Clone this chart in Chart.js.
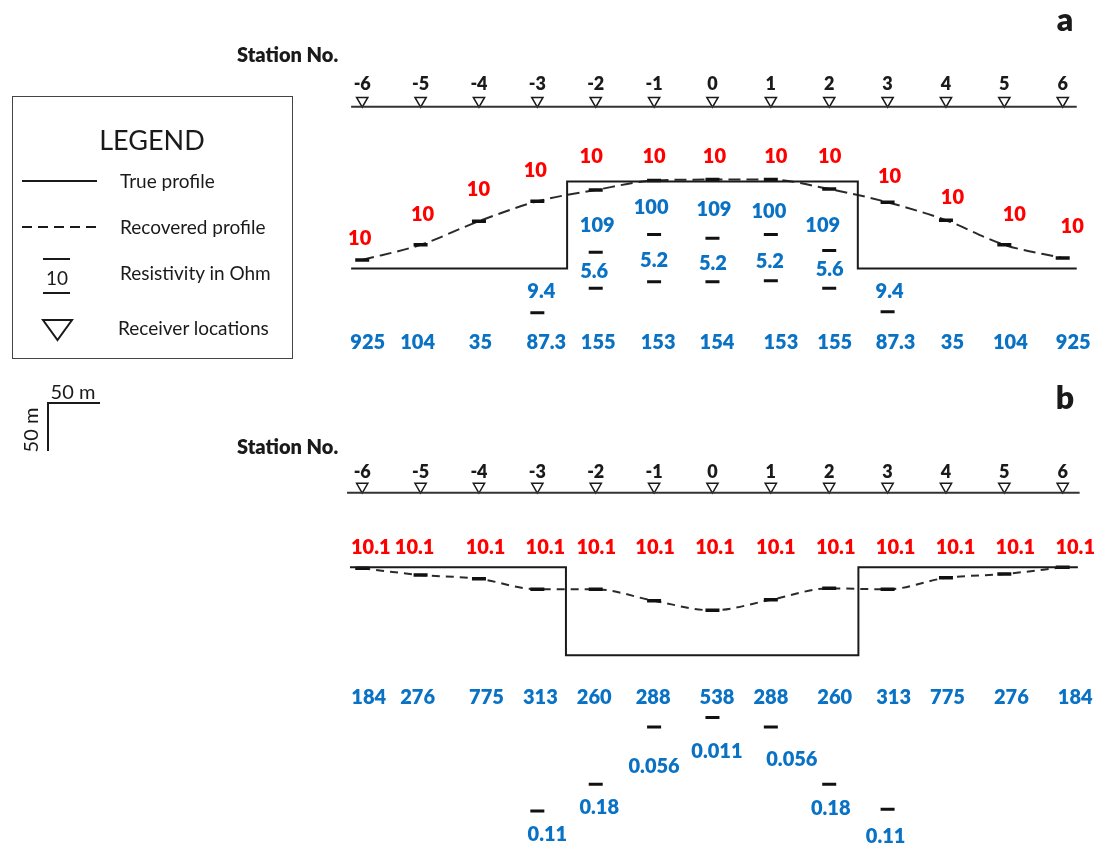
<!DOCTYPE html>
<html>
<head>
<meta charset="utf-8">
<script src="https://cdn.jsdelivr.net/npm/chart.js@4.4.1/dist/chart.umd.min.js"></script>
<style>
  body { margin: 0; background: #fff; font-family: Lato, "Open Sans", sans-serif; }
  #page { position: relative; width: 1110px; height: 856px; overflow: hidden; }
  canvas { position: absolute; left: 0; }
  #panelA { top: 0; }
  #panelB { top: 380px; }
  .box { position: absolute; left: 12px; top: 96px; width: 279px; height: 261px; border: 1px solid #444; }
  .txt { position: absolute; white-space: nowrap; height: 24px; line-height: 24px; font-size: 19px; color: #1a1a1a; }
  .rule { position: absolute; background: #1a1a1a; }
</style>
</head>
<body>
<div id="page">
  <canvas id="panelA" width="1110" height="380"></canvas>
  <canvas id="panelB" width="1110" height="476"></canvas>

  <!-- legend box -->
  <div class="box"></div>
  <div class="txt" style="left:52px;width:200px;text-align:center;top:124px;height:32px;line-height:32px;font-size:27px;">LEGEND</div>
  <div class="rule" style="left:22px;top:180px;width:75px;height:2px;"></div>
  <div class="txt" style="left:120px;top:169px;">True profile</div>
  <div class="rule" style="left:22px;top:226px;width:75px;height:2px;background:repeating-linear-gradient(to right,#1a1a1a 0 10px,transparent 10px 16px);"></div>
  <div class="txt" style="left:120px;top:215px;">Recovered profile</div>
  <div class="rule" style="left:43px;top:258px;width:27px;height:2px;"></div>
  <div class="txt" style="left:37px;width:40px;text-align:center;top:266px;">10</div>
  <div class="rule" style="left:43px;top:292px;width:27px;height:2px;"></div>
  <div class="txt" style="left:120px;top:261px;">Resistivity in Ohm</div>
  <svg style="position:absolute;left:40px;top:317px;" width="36" height="26">
    <polygon points="3,3 32,3 17.5,23" fill="none" stroke="#1a1a1a" stroke-width="2"/>
  </svg>
  <div class="txt" style="left:118px;top:316px;">Receiver locations</div>

  <!-- scale bar -->
  <div class="txt" style="left:43px;width:60px;text-align:center;top:379px;font-size:20px;">50 m</div>
  <div class="rule" style="left:47px;top:402px;width:53px;height:2px;"></div>
  <div class="rule" style="left:47px;top:402px;width:2px;height:49px;"></div>
  <div class="txt" style="left:0;width:60px;text-align:center;top:418px;font-size:20px;transform:rotate(-90deg);">50 m</div>
</div>

<script>
// station numbers along both profiles
const stations = [-6, -5, -4, -3, -2, -1, 0, 1, 2, 3, 4, 5, 6];
const centreStations = [-2, -1, 0, 1, 2];
const innerStations = [-3, -2, -1, 0, 1, 2, 3];

// --- panel a: raised block ---
const aSurfaceX = [-6.19, 6.24];
const aTrueX = [-6.19, -2.49, -2.49, 2.49, 2.49, 6.24];
const aTrueDepth = [171, 171, 79, 79, 171, 171];
const aRecoveredDepth = [162, 146, 121, 100, 88, 78, 77, 77, 87, 101, 120, 146, 160];
const aUpperTickDepth = [154, 135, 139, 135, 152];
const aLowerTickDepth = [218, 192, 185, 185, 184, 192, 217];
const aTopRes = [10, 10, 10, 10, 10, 10, 10, 10, 10, 10, 10, 10, 10];
const aUpperRes = [109, 100, 109, 100, 109];
const aLowerRes = [9.4, 5.6, 5.2, 5.2, 5.2, 5.6, 9.4];
const aBaseRes = [925, 104, 35, 87.3, 155, 153, 154, 153, 155, 87.3, 35, 104, 925];

// --- panel b: sunken block ---
const bSurfaceX = [-6.26, 6.29];
const bTrueX = [-6.21, -2.51, -2.51, 2.5, 2.5, 6.26];
const bTrueDepth = [78, 78, 170, 170, 78, 78];
const bRecoveredDepth = [79, 86, 90, 101, 101, 113, 123, 112, 100, 101, 89, 85, 78];
const bLowerTickDepth = [333, 305, 245, 235, 245, 305, 331];
const bTopRes = [10.1, 10.1, 10.1, 10.1, 10.1, 10.1, 10.1, 10.1, 10.1, 10.1, 10.1, 10.1, 10.1];
const bMidRes = [184, 276, 775, 313, 260, 288, 538, 288, 260, 313, 775, 276, 184];
const bLowerRes = [0.11, 0.18, 0.056, 0.011, 0.056, 0.18, 0.11];

// label placement (depth of the text centre, sideways nudge in px)
const aTopLabelDepth = [139, 113, 87, 67, 52, 52, 52, 52, 52, 73, 95, 113, 126];
const aTopLabelDx = [-2.5, 2, -0.5, -2, -4.5, 0, 2, 5, 0.5, 2, 6.5, 10, 9.5];
const aUpperLabelDepth = [125, 106, 108, 110, 125];
const aUpperLabelDx = [1.5, -3, 1.5, -2, -6.5];
const aLowerLabelDepth = [195, 174, 162, 165, 163, 171, 195];
const aLowerLabelDx = [4, -1.5, 0, 0.5, -1, 0.5, 2];
const aBaseLabelDx = [5.5, -3, 1.5, 9, 2.5, 4, 4.5, 10, 5.5, 8, 6.5, 6, 10.5];
const bTopLabelDx = [8.5, -6, 6.5, 8, 0.5, 1, 2.5, 5, 6.5, 8, 9.5, 11, 12.5];
const bMidLabelDx = [6.5, -3, 7.5, 3, -1.5, -1, 4.5, 0, 5.5, 6, 1.5, 7, 12.5];
const bLowerLabelDepth = [357, 329, 286, 270, 278, 330, 359];
const bLowerLabelDx = [10, 3.5, 0, 4.5, 21, 1.5, -2];

const RED = '#ff0000';
const BLUE = '#0a72c4';
const INK = '#1a1a1a';
const VALUE_FONT = '800 20px Lato';
const STATION_FONT = '800 18px Lato';

// x axis in station units, shared by both panels
const stationPx = 59.5;
const xMin = -6 - 358.5 / stationPx;
const xMax = xMin + 1110 / stationPx;
const receiverSize = 6.5;

const pts = (xs, ys) => xs.map((x, i) => ({ x, y: Array.isArray(ys) ? ys[i] : ys }));

function drawPanel(cfg) {
  const labelPlugin = {
    id: 'profileLabels',
    afterDatasetsDraw(chart) {
      const { ctx, scales: { x, y } } = chart;
      ctx.save();
      ctx.textAlign = 'center';
      ctx.textBaseline = 'alphabetic';
      for (const row of cfg.rows) {
        ctx.font = row.font;
        ctx.fillStyle = row.color;
        const size = parseFloat(row.font.match(/(\d+)px/)[1]);
        row.at.forEach((s, i) => {
          const d = Array.isArray(row.depth) ? row.depth[i] : row.depth;
          const dx = row.dx ? row.dx[i] : 0;
          ctx.fillText(String(row.text[i]), x.getPixelForValue(s) + dx, y.getPixelForValue(d) + size * 0.36);
        });
      }
      ctx.fillStyle = INK;
      ctx.textAlign = 'left';
      ctx.font = '800 20px Lato';
      ctx.fillText('Station No.', 237, cfg.titleY + 7);
      ctx.textAlign = 'center';
      ctx.font = '800 32px Lato';
      ctx.fillText(cfg.letter, 1065, cfg.letterY + 11);
      ctx.restore();
    }
  };

  new Chart(document.getElementById(cfg.canvas), {
    type: 'scatter',
    data: {
      datasets: [
        { data: pts(cfg.trueX, cfg.trueDepth), showLine: true, borderColor: INK, borderWidth: 2, pointRadius: 0 },
        { data: pts(cfg.surfaceX, 0), showLine: true, borderColor: '#333', borderWidth: 2, pointRadius: 0 },
        {
          data: pts(stations, cfg.recovered), showLine: true, borderColor: '#2a2a2a', borderWidth: 2,
          borderDash: cfg.dash, tension: 0.4, cubicInterpolationMode: 'monotone',
          pointStyle: 'line', pointRadius: 7, pointBorderWidth: 3.5, pointBorderColor: '#111'
        },
        ...cfg.ticks.map(t => ({
          data: pts(t.at, t.depth), pointStyle: 'line', pointRadius: 7, pointBorderWidth: 3, pointBorderColor: '#111'
        })),
        {
          data: pts(stations, -receiverSize), pointStyle: 'triangle', rotation: 180, pointRadius: receiverSize,
          pointBorderWidth: 1.5, pointBorderColor: INK, pointBackgroundColor: '#fff'
        }
      ]
    },
    options: {
      responsive: false,
      animation: false,
      events: [],
      layout: { padding: 0 },
      plugins: { legend: { display: false }, tooltip: { enabled: false } },
      scales: {
        x: { type: 'linear', display: false, min: xMin, max: xMax },
        y: { type: 'linear', display: false, min: cfg.yMin, max: cfg.yMax, reverse: true }
      }
    },
    plugins: [labelPlugin]
  });
}

drawPanel({
  canvas: 'panelA', yMin: -102, yMax: 278, letter: 'a', letterY: 20, titleY: 55,
  surfaceX: aSurfaceX, trueX: aTrueX, trueDepth: aTrueDepth, recovered: aRecoveredDepth, dash: [12, 6],
  ticks: [
    { at: centreStations, depth: aUpperTickDepth },
    { at: innerStations, depth: aLowerTickDepth }
  ],
  rows: [
    { at: stations, text: stations, depth: -25, font: STATION_FONT, color: INK },
    { at: stations, text: aTopRes, depth: aTopLabelDepth, dx: aTopLabelDx, font: VALUE_FONT, color: RED },
    { at: centreStations, text: aUpperRes, depth: aUpperLabelDepth, dx: aUpperLabelDx, font: VALUE_FONT, color: BLUE },
    { at: innerStations, text: aLowerRes, depth: aLowerLabelDepth, dx: aLowerLabelDx, font: VALUE_FONT, color: BLUE },
    { at: stations, text: aBaseRes, depth: 249, dx: aBaseLabelDx, font: VALUE_FONT, color: BLUE }
  ]
});

drawPanel({
  canvas: 'panelB', yMin: -107, yMax: 369, letter: 'b', letterY: 18, titleY: 67,
  surfaceX: bSurfaceX, trueX: bTrueX, trueDepth: bTrueDepth, recovered: bRecoveredDepth, dash: [8, 6],
  ticks: [
    { at: innerStations, depth: bLowerTickDepth }
  ],
  rows: [
    { at: stations, text: stations, depth: -22, font: STATION_FONT, color: INK },
    { at: stations, text: bTopRes, depth: 56, dx: bTopLabelDx, font: VALUE_FONT, color: RED },
    { at: stations, text: bMidRes, depth: 213, dx: bMidLabelDx, font: VALUE_FONT, color: BLUE },
    { at: innerStations, text: bLowerRes, depth: bLowerLabelDepth, dx: bLowerLabelDx, font: VALUE_FONT, color: BLUE }
  ]
});
</script>
</body>
</html>
